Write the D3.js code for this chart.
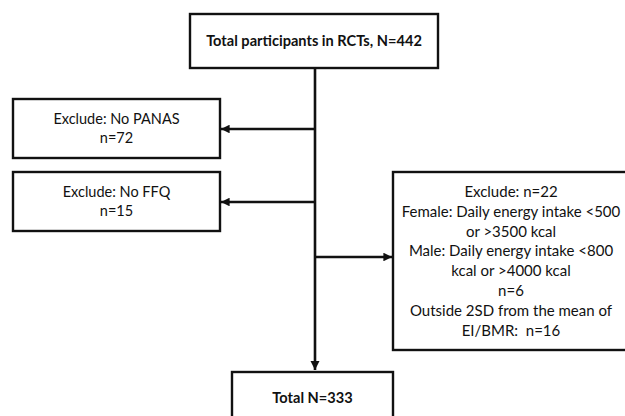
<!doctype html>
<html lang="en">
<head>
    <meta charset="utf-8">
    <title>Participant flow</title>
    <style>
        body {
            margin: 0;
            background-color: white;
        }
        svg text {
            font-family: Lato, 'Open Sans', sans-serif;
            fill: #111;
            white-space: pre;
        }
    </style>
    <script src="https://cdn.jsdelivr.net/npm/d3@7/dist/d3.min.js"></script>
</head>
<body>
    <svg id="flow"></svg>
    <script>
        // box labels
        var topLabel = ["Total participants in RCTs, N=442"];
        var panasLabel = ["Exclude: No PANAS", "n=72"];
        var ffqLabel = ["Exclude: No FFQ", "n=15"];
        var energyLabel = [
            "Exclude: n=22",
            "Female: Daily energy intake <500",
            "or >3500 kcal",
            "Male: Daily energy intake <800",
            "kcal or >4000 kcal",
            "n=6",
            "Outside 2SD from the mean of",
            "EI/BMR:  n=16"
        ];
        var totalLabel = ["Total N=333"];

        var width = 625, height = 416;

        var svg = d3.select("#flow")
            .attr("width", width)
            .attr("height", height);

        var defs = svg.append("defs");
        defs.append("marker")
            .attr("id", "arrow")
            .attr("viewBox", "0 0 10 10")
            .attr("refX", 10)
            .attr("refY", 5)
            .attr("markerWidth", 3.6)
            .attr("markerHeight", 3.6)
            .attr("markerUnits", "strokeWidth")
            .attr("orient", "auto")
            .append("path")
            .attr("d", "M0,0 L10,5 L0,10 z")
            .attr("fill", "#111");

        // layout of the boxes (pixels)
        var boxes = [
            { lines: topLabel, x: 190, y: 14, w: 248, h: 54, bold: true, size: 14.6 },
            { lines: panasLabel, x: 13, y: 99, w: 207, h: 59, size: 14.5 },
            { lines: ffqLabel, x: 13, y: 172, w: 207, h: 59, size: 14.5 },
            { lines: energyLabel, x: 393, y: 172, w: 240, h: 178, size: 15, shift: -2 },
            { lines: totalLabel, x: 232, y: 372, w: 161, h: 70, bold: true, size: 14.6, cy: 398 }
        ];

        var lineHeight = 19.8;
        var spineX = 315;

        var g = svg.append("g");

        // main vertical spine
        g.append("line")
            .attr("x1", spineX).attr("y1", 68)
            .attr("x2", spineX).attr("y2", 370)
            .attr("stroke", "#111")
            .attr("stroke-width", 2.6)
            .attr("marker-end", "url(#arrow)");

        // side arrows
        var branches = [
            { y: 129, x2: 221 },
            { y: 202, x2: 221 },
            { y: 257, x2: 392 }
        ];
        g.selectAll(".branch")
            .data(branches)
            .join("line")
            .attr("class", "branch")
            .attr("x1", spineX)
            .attr("y1", function (d) { return d.y })
            .attr("x2", function (d) { return d.x2 })
            .attr("y2", function (d) { return d.y })
            .attr("stroke", "#111")
            .attr("stroke-width", 2.4)
            .attr("marker-end", "url(#arrow)");

        var node = g.selectAll(".box")
            .data(boxes)
            .join("g")
            .attr("class", "box");

        node.append("rect")
            .attr("x", function (d) { return d.x })
            .attr("y", function (d) { return d.y })
            .attr("width", function (d) { return d.w })
            .attr("height", function (d) { return d.h })
            .attr("fill", "white")
            .attr("stroke", "#111")
            .attr("stroke-width", 2.4);

        node.each(function (d) {
            var cy = d.cy || d.y + d.h / 2;
            var top = cy - (d.lines.length - 1) * lineHeight / 2;
            d3.select(this).selectAll("text")
                .data(d.lines)
                .join("text")
                .attr("x", d.x + d.w / 2 + (d.shift || 0))
                .attr("y", function (t, i) { return top + i * lineHeight })
                .attr("dy", "0.35em")
                .attr("text-anchor", "middle")
                .attr("font-size", d.size)
                .attr("font-weight", d.bold ? "bold" : "normal")
                .text(function (t) { return t });
        });
    </script>
</body>
</html>
